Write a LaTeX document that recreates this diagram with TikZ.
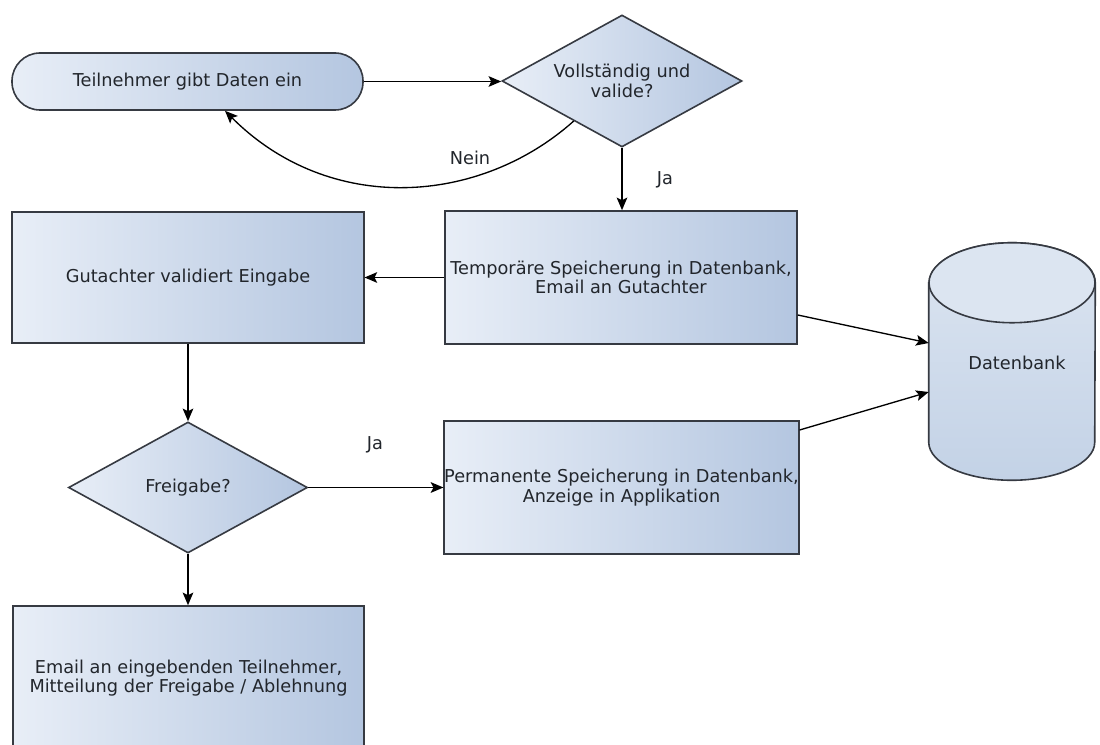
\documentclass[tikz,border=0pt]{standalone}
\usepackage{fontspec}
\setmainfont{DejaVu Sans}
\usetikzlibrary{shapes.geometric,arrows.meta,calc}
\definecolor{boxlight}{HTML}{E8EEF7}
\definecolor{boxdark}{HTML}{B4C6E0}
\definecolor{edgecol}{HTML}{363A42}
\definecolor{txtcol}{HTML}{22262C}
\definecolor{cyltop}{HTML}{DCE5F1}
\definecolor{cylbot}{HTML}{C3D2E6}
\tikzset{
  base/.style={draw=edgecol, line width=1.2pt, left color=boxlight, right color=boxdark,
    text=txtcol, align=center, inner sep=0pt,
    font=\fontsize{13.3}{14.5}\selectfont},
  procbox/.style={base, rectangle},
  termbox/.style={base, rectangle, rounded corners=21pt},
  decbox/.style={base, diamond, aspect=1.8},
  lbl/.style={text=txtcol, font=\fontsize{13.3}{14.5}\selectfont, inner sep=0pt},
  conn/.style={draw=black, line width=1pt, -{Stealth[length=9.5pt,width=8pt,inset=2pt]}},
}
\begin{document}
\begin{tikzpicture}[x=0.75pt,y=-0.75pt]
\useasboundingbox (0,0) rectangle (1100,745);
\fill[white] (0,0) rectangle (1100,745);

\node[termbox, minimum width=263.25pt, minimum height=42.75pt] (start) at (187.5,81.5) {Teilnehmer gibt Daten ein};
\node[decbox, minimum width=180pt, minimum height=99pt] (q1) at (622,81) {Vollständig und\\valide?};
\node[procbox, minimum width=264pt, minimum height=99.75pt] (temp) at (621,277.5) {Temporäre Speicherung in Datenbank,\\Email an Gutachter};
\node[procbox, minimum width=263.6pt, minimum height=98.25pt] (gut) at (188,277.5) {Gutachter validiert Eingabe};
\node[decbox, minimum width=179.25pt, minimum height=98.25pt] (q2) at (188,487.5) {Freigabe?};
\node[procbox, minimum width=264.75pt, minimum height=99.75pt] (perm) at (621.5,487.5) {Permanente Speicherung in Datenbank,\\Anzeige in Applikation};
\node[procbox, minimum width=263.25pt, minimum height=108pt] (email) at (188.5,678) {Email an eingebenden Teilnehmer,\\Mitteilung der Freigabe / Ablehnung};

% database cylinder
\node[rectangle, draw=none, minimum width=124.5pt, minimum height=177.75pt, inner sep=0pt] (db) at (1012,361.5) {};
\draw[edgecol, line width=1.2pt, top color=cyltop, bottom color=cylbot]
  ($(db.north west)+(0,40)$) -- ($(db.south west)+(0,-38)$)
  arc[start angle=180, end angle=0, x radius=83, y radius=38]
  -- ($(db.north east)+(0,40)$)
  arc[start angle=0, end angle=-180, x radius=83, y radius=40] -- cycle;
\draw[edgecol, line width=1.2pt, fill=cyltop] ($(db.north)+(0,40)$) ellipse[x radius=83, y radius=40];
\node[lbl] (dbl) at (1017,363) {Datenbank};

% connectors
\draw[conn] (start.east) -- (start.east -| q1.west);
\draw[conn] ($(q1.south)!0.4!(q1.west)$) .. controls +(-94,84) and +(105,105) .. ($(start.south)+(37.5,0)$);
\node[lbl] (nein) at (470,158) {Nein};
\draw[conn] (q1.south) -- (q1.south |- temp.north);
\node[lbl] (ja1) at (665,180) {Ja};
\draw[conn] (temp.west) -- (temp.west -| gut.east);
\draw[conn] ($(temp.east)+(0,37.5)$) -- ($(db.west)+(0,-18.5)$);
\draw[conn] ($(perm.east)+(0,-57.5)$) -- ($(db.west)+(0,30.5)$);
\draw[conn] (gut.south) -- (q2.north);
\draw[conn] (q2.east) -- (q2.east -| perm.west);
\node[lbl] (ja2) at (375,445) {Ja};
\draw[conn] (q2.south) -- (q2.south |- email.north);
\end{tikzpicture}
\end{document}
